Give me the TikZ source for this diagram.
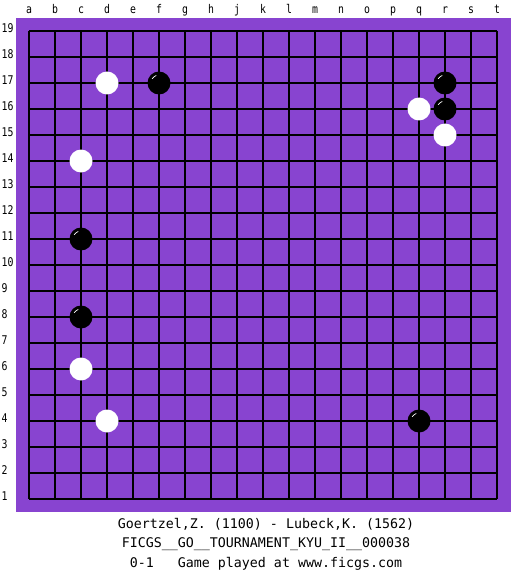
\documentclass[tikz,border=0pt]{standalone}
\usepackage{fontspec}
\setmonofont{DejaVu Sans Mono}
\newfontfamily\labelfont[FakeStretch=0.82]{DejaVu Sans Mono}
\definecolor{board}{RGB}{136,68,208}
\begin{document}
\begin{tikzpicture}[x=1pt,y=-1pt,
  whitestone/.style={circle,fill=white,draw=none,minimum size=23pt,inner sep=0pt},
  blackstone/.style={circle,fill=black,draw=none,minimum size=23pt,inner sep=0pt},
  gridline/.style={line width=1.1pt,black},
  collabel/.style={font=\labelfont\fontsize{12}{13}\selectfont,inner sep=0pt,anchor=base},
  rowlabel/.style={font=\labelfont\fontsize{12}{13}\selectfont,inner sep=0pt,anchor=base west},
  caption/.style={font=\ttfamily\fontsize{13.3}{15}\selectfont,inner sep=0pt}]
\useasboundingbox[fill=white] (0,0) rectangle (525,575);
\fill[board] (16,18) rectangle (511,512);
\foreach \i in {0,...,18}{
  \draw[gridline] (29+26*\i,31) -- (29+26*\i,499);
  \draw[gridline] (29,31+26*\i) -- (497,31+26*\i);
}
\foreach \l [count=\i from 0] in {a,b,c,d,e,f,g,h,j,k,l,m,n,o,p,q,r,s,t}{
  \node[collabel] (col\l) at (29+26*\i,14) {\l};
}
\foreach \n in {1,...,19}{
  \node[rowlabel] (row\n) at (1.5,32.5+26*19-26*\n) {\n};
}
% white stones
\node[whitestone] (wd17) at (107,83) {};
\node[whitestone] (wq16) at (419,109) {};
\node[whitestone] (wr15) at (445,135) {};
\node[whitestone] (wc14) at (81,161) {};
\node[whitestone] (wc6) at (81,369) {};
\node[whitestone] (wd4) at (107,421) {};
% black stones
\foreach \nm/\x/\y in {bf17/159/83, br17/445/83, br16/445/109, bc11/81/239, bc8/81/317, bq4/419/421}{
  \node[blackstone] (\nm) at (\x,\y) {};
  \draw[white,line width=0.7pt] (\nm.center) ++(212:8) arc[start angle=212,end angle=250,radius=8];
}
\node[caption] (line1) at (266,524) {Goertzel,Z. (1100) - Lubeck,K. (1562)};
\node[caption] (line2) at (266,544) {FICGS\_\_GO\_\_TOURNAMENT\_KYU\_II\_\_000038};
\node[caption] (line3) at (266,564) {0-1\ \ \ Game played at www.ficgs.com};
\end{tikzpicture}
\end{document}
